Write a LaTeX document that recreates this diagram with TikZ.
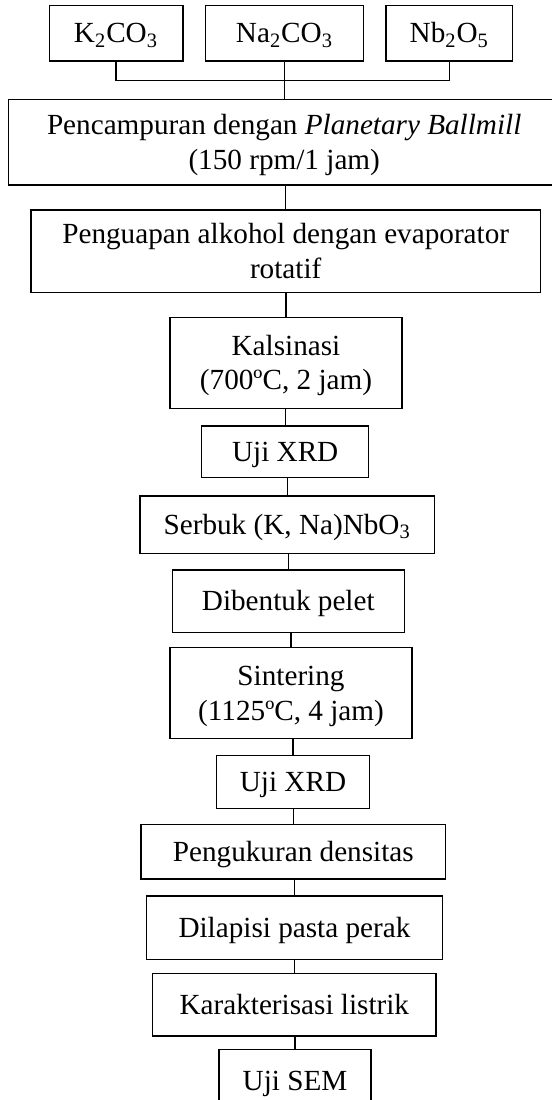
\documentclass[tikz,border=0pt]{standalone}
\usepackage{fontspec}
\setmainfont{Liberation Serif}
\begin{document}
\begin{tikzpicture}[x=0.5pt,y=-0.5pt]
\tikzset{
  box/.style={draw, line width=0.7pt, inner sep=0pt, align=center,
    font=\fontsize{14.6}{17.2}\selectfont},
  one/.style={text height=9.67pt, text depth=0pt},
  two/.style={text height=26.87pt, text depth=0pt},
  conn/.style={line width=0.7pt}
}
\useasboundingbox (0,0) rectangle (552,1100);
\clip (0,0) rectangle (552,1100);
% top inputs
\node[box,one,minimum width=66.8pt,minimum height=27.7pt] (k) at (116,33.3) {K\textsubscript{2}CO\textsubscript{3}};
\node[box,one,minimum width=78.8pt,minimum height=27.7pt] (na) at (284.5,33.3) {Na\textsubscript{2}CO\textsubscript{3}};
\node[box,one,minimum width=63.3pt,minimum height=27.7pt] (nb) at (449.3,33.3) {Nb\textsubscript{2}O\textsubscript{5}};
\coordinate (jn) at (284.5,80.3);
% process chain
\node[box,two,minimum width=275.8pt,minimum height=42.8pt] (mix) at (284.2,142.2) {Pencampuran dengan \textit{Planetary Ballmill}\\(150 rpm/1 jam)};
\node[box,two,minimum width=254.7pt,minimum height=41.3pt] (evap) at (285.7,251.3) {Penguapan alkohol dengan evaporator\\rotatif};
\node[box,two,minimum width=116pt,minimum height=45.5pt] (kal) at (286,362.8) {Kalsinasi\\(700ºC, 2 jam)};
\node[box,one,minimum width=83.5pt,minimum height=25.8pt] (xrd1) at (285.2,451.8) {Uji XRD};
\node[box,one,minimum width=147.2pt,minimum height=28.7pt] (serbuk) at (287.2,524.7) {Serbuk (K, Na)NbO\textsubscript{3}};
\node[box,one,minimum width=116pt,minimum height=31.3pt] (pelet) at (288.3,601.3) {Dibentuk pelet};
\node[box,two,minimum width=121pt,minimum height=45.5pt] (sint) at (291,693.2) {Sintering\\(1125ºC, 4 jam)};
\node[box,one,minimum width=76.3pt,minimum height=26.5pt] (xrd2) at (293,781.8) {Uji XRD};
\node[box,one,minimum width=152.3pt,minimum height=27.3pt] (dens) at (293.3,851.7) {Pengukuran densitas};
\node[box,one,minimum width=147.8pt,minimum height=31.7pt] (perak) at (294.5,927.7) {Dilapisi pasta perak};
\node[box,one,minimum width=141.7pt,minimum height=31.3pt] (listrik) at (294.3,1004.7) {Karakterisasi listrik};
\node[box,one,minimum width=76pt,minimum height=31.5pt] (sem) at (295,1080.7) {Uji SEM};
% connectors
\draw[conn] (k.south) -- (k.south |- jn) -- (nb.south |- jn) -- (nb.south);
\draw[conn] (na.south) -- (na.south |- mix.north);
\foreach \a/\b in {mix/evap, evap/kal, kal/xrd1, xrd1/serbuk, serbuk/pelet, pelet/sint, sint/xrd2, xrd2/dens, dens/perak, perak/listrik, listrik/sem}
  \draw[conn] (\b.north |- \a.south) -- (\b.north);
\end{tikzpicture}
\end{document}
